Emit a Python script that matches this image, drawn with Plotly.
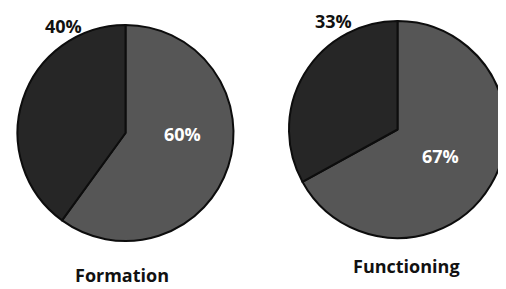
import plotly.graph_objects as go

charts = ["Formation", "Functioning"]
formation_values = [60, 40]
functioning_values = [67, 33]
slice_labels = ["Major", "Minor"]
slice_colors = ["#565656", "#262626"]

# page body has an 8px margin, so map screen pixels to figure pixels
OFF = 8
W, H = 506 - OFF, 289 - OFF

def fx(x):
    return (x - OFF) / W

def fy(y):
    return 1 - (y - OFF) / H

def px_dom(x0, x1, y0, y1):
    return dict(x=[max(0, fx(x0)), min(1, fx(x1))], y=[max(0, fy(y1)), min(1, fy(y0))])

fig = go.Figure()

fig.add_trace(go.Pie(
    labels=slice_labels, values=formation_values, sort=False,
    direction="clockwise", rotation=0, textinfo="none", hoverinfo="label+percent",
    marker=dict(colors=slice_colors, line=dict(color="#0d0d0d", width=2)),
    domain=px_dom(17, 234, 25, 241), showlegend=False,
))
fig.add_trace(go.Pie(
    labels=slice_labels, values=functioning_values, sort=False,
    direction="clockwise", rotation=0, textinfo="none", hoverinfo="label+percent",
    marker=dict(colors=slice_colors, line=dict(color="#0d0d0d", width=2)),
    domain=px_dom(289, 506, 18, 241), showlegend=False,
))

font_family = "Open Sans"

def pct(v):
    return f"{v}%"

ann = [
    dict(x=63, y=26, text=pct(formation_values[1]), color="#111111", size=18),
    dict(x=182, y=134, text=pct(formation_values[0]), color="#ffffff", size=18),
    dict(x=333, y=21, text=pct(functioning_values[1]), color="#111111", size=18),
    dict(x=440, y=156, text=pct(functioning_values[0]), color="#ffffff", size=18),
    dict(x=122, y=275, text=charts[0], color="#111111", size=18),
    dict(x=406, y=266, text=charts[1], color="#111111", size=18),
]
for a in ann:
    fig.add_annotation(
        x=fx(a["x"]), y=fy(a["y"]), xref="paper", yref="paper",
        text=f"<b>{a['text']}</b>",
        showarrow=False, xanchor="center", yanchor="middle",
        font=dict(family=font_family, size=a["size"], color=a["color"]),
    )

fig.update_layout(
    width=W, height=H, margin=dict(l=0, r=0, t=0, b=0),
    paper_bgcolor="white", plot_bgcolor="white",
)

fig.write_html("out.html")
